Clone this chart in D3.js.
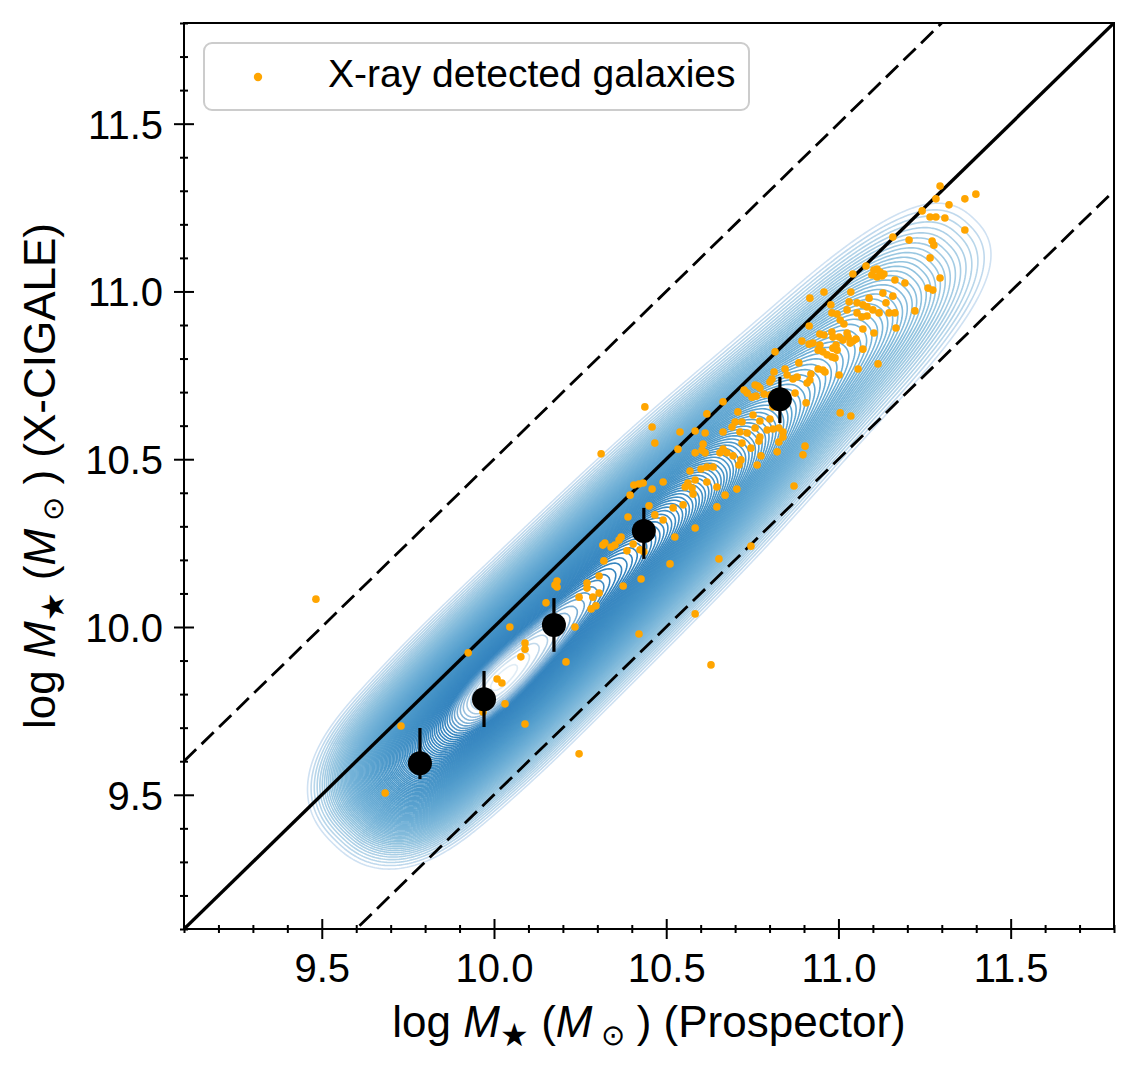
<!DOCTYPE html>
<html>
<head>
<meta charset="utf-8">
<script src="https://cdn.jsdelivr.net/npm/d3@7"></script>
<style>
  body { margin: 0; background: #fff; }
  text { font-family: "Liberation Sans", Arial, Helvetica, sans-serif; fill: #000; }
</style>
</head>
<body>
<svg id="chart" width="1137" height="1068"></svg>
<script>
// ---- data ----
const axisDomain = [9.1, 11.8];
const majorTicks = [9.5, 10.0, 10.5, 11.0, 11.5];
const minorTicks = d3.range(91, 119).map(d => d / 10).filter(v => Math.round(v * 10) % 5 !== 0);

// 1:1 relation and the +/-0.5 dex envelope
const refX = [9.1, 11.8];
const refOffsets = [0, 0.5, -0.5];

// X-ray detected galaxies (Prospector mass, X-CIGALE mass)
const xrayX = [11.295,11.399,11.367,11.283,11.321,11.243,11.266,11.283,11.309,11.367,11.158,11.205,11.272,11.277,11.266,11.080,11.042,11.103,11.112,11.121,
  11.132,11.097,11.112,11.126,11.164,11.193,11.295,11.260,11.274,10.917,10.958,11.036,11.129,11.158,11.089,11.031,11.054,11.071,11.083,10.978,
  11.138,10.981,10.996,11.025,11.054,11.068,11.083,11.100,11.118,11.147,11.164,11.222,11.005,11.016,11.167,11.071,11.103,10.915,10.946,10.958,
  10.981,10.984,11.025,11.028,11.002,11.013,10.894,10.915,10.926,10.946,11.051,11.042,11.034,10.993,10.984,10.996,10.941,10.955,10.967,10.981,
  10.990,11.071,10.816,10.885,11.115,11.057,10.941,10.955,10.961,11.002,10.920,10.917,10.845,10.813,10.851,10.868,10.880,10.807,10.801,10.758,
  10.766,10.909,10.772,10.784,10.761,10.749,10.735,10.726,10.801,10.810,10.810,10.874,10.906,11.005,11.036,10.708,10.665,10.618,10.700,10.720,
  10.691,10.714,10.752,10.772,10.801,10.665,10.735,10.758,10.793,10.810,10.827,10.839,10.839,10.772,10.769,10.827,10.720,10.746,10.665,10.676,
  10.656,10.694,10.717,10.711,10.822,10.775,10.764,10.903,10.897,10.584,10.613,10.540,10.534,10.607,10.604,10.613,10.584,10.459,10.467,10.438,
  10.311,10.569,10.601,10.618,10.636,10.584,10.563,10.555,10.575,10.578,10.618,10.647,10.705,10.671,10.549,10.520,10.647,10.584,10.525,10.491,
  10.467,10.491,10.459,10.406,10.421,10.433,10.395,10.450,10.389,10.369,10.363,10.351,10.322,10.316,10.340,10.386,10.424,10.435,10.319,10.305,
  10.375,10.427,10.511,10.653,10.746,10.871,10.183,10.177,10.270,10.584,10.630,10.421,9.483,9.925,9.730,9.684,10.247,10.046,10.090,10.090,
  10.078,10.009,10.023,10.032,10.090,9.968,10.151,10.183,10.235,10.209,10.270,10.247,10.287,10.305,10.282,10.296,10.404];
const xrayY = [11.314,11.290,11.276,11.276,11.258,11.240,11.222,11.222,11.219,11.183,11.162,11.153,11.150,11.138,11.100,11.076,11.052,11.064,11.067,11.058,
  11.052,11.049,11.043,11.046,11.034,11.025,11.040,11.010,11.004,10.980,10.998,10.998,10.995,10.986,10.980,10.969,10.966,10.960,10.954,10.960,
  10.966,10.936,10.933,10.945,10.936,10.924,10.927,10.945,10.936,10.936,10.936,10.942,10.915,10.903,10.891,10.888,10.876,10.897,10.873,10.870,
  10.879,10.864,10.876,10.864,10.864,10.855,10.852,10.843,10.846,10.840,10.858,10.852,10.846,10.840,10.831,10.825,10.825,10.820,10.811,10.805,
  10.802,10.828,10.820,10.787,10.784,10.769,10.769,10.766,10.760,10.751,10.754,10.736,10.769,10.760,10.751,10.739,10.745,10.739,10.730,10.721,
  10.718,10.727,10.712,10.694,10.688,10.685,10.697,10.706,10.691,10.668,10.656,10.697,10.668,10.638,10.629,10.641,10.671,10.635,10.611,10.611,
  10.596,10.581,10.632,10.614,10.620,10.581,10.578,10.593,10.587,10.590,10.593,10.581,10.566,10.566,10.554,10.551,10.548,10.533,10.530,10.519,
  10.519,10.510,10.498,10.483,10.522,10.510,10.483,10.539,10.513,10.584,10.578,10.581,10.530,10.545,10.527,10.519,10.519,10.596,10.548,10.656,
  10.516,10.465,10.471,10.477,10.477,10.438,10.429,10.417,10.414,10.396,10.432,10.417,10.411,10.393,10.364,10.355,10.358,10.295,10.268,10.319,
  10.334,10.432,10.411,10.423,10.426,10.429,10.393,10.361,10.328,10.268,10.259,10.244,10.250,10.244,10.238,10.227,10.230,10.224,10.197,10.152,
  10.122,10.143,10.188,10.203,10.241,10.420,10.137,10.125,10.131,10.039,9.887,9.979,10.083,9.923,9.705,9.505,9.622,10.000,9.952,9.934,
  9.911,9.845,9.833,9.771,9.711,9.747,10.072,10.119,10.000,9.896,10.116,10.089,10.089,10.101,10.054,10.063,10.247];

// binned medians with asymmetric error bars
const binX  = [9.785, 9.971, 10.174, 10.435, 10.830];
const binY  = [9.594, 9.785, 10.006, 10.286, 10.679];
const binLo = [9.547, 9.702, 9.926, 10.203, 10.608];
const binHi = [9.699, 9.869, 10.086, 10.355, 10.745];

// full-sample density, described as pieces along the diagonal
// mass = (x+y)/2, offset = y - x
const kdeMass   = [9.62, 9.76, 9.88, 10.00, 10.12, 10.24, 10.36, 10.48, 10.60, 10.72, 10.84, 10.96, 11.08, 11.20, 11.30];
const kdeSigMass = [0.10, 0.11, 0.11, 0.11, 0.11, 0.11, 0.11, 0.11, 0.11, 0.11, 0.11, 0.11, 0.11, 0.10, 0.08];
const kdeWeight = [0.78, 0.87, 0.86, 0.84, 0.80, 0.77, 0.73, 0.67, 0.55, 0.44, 0.36, 0.33, 0.28, 0.16, 0.05];
const kdeOffset = -0.18;
const kdeSigOffset = 0.205;
const kdeShape = 2.4;   // flat-topped cross profile
const kdeLevels = 100;

// ---- layout ----
const W = 1137, H = 1068;
const pLeft = 184, pRight = 1114, pTop = 23, pBottom = 929;

const svg = d3.select("#chart");
svg.append("rect").attr("width", W).attr("height", H).attr("fill", "#fff");

const x = d3.scaleLinear().domain(axisDomain).range([pLeft, pRight]);
const y = d3.scaleLinear().domain(axisDomain).range([pBottom, pTop]);

svg.append("clipPath").attr("id", "plotclip")
  .append("rect").attr("x", pLeft).attr("y", pTop)
  .attr("width", pRight - pLeft).attr("height", pBottom - pTop);

const plot = svg.append("g").attr("clip-path", "url(#plotclip)");

// ---- density contours ----
function kde(mx, my) {
  const a = (mx + my) / 2;
  const ud = Math.abs(my - mx - kdeOffset) / kdeSigOffset;
  let s = 0;
  for (let k = 0; k < kdeMass.length; k++) {
    const ua = (a - kdeMass[k]) / kdeSigMass[k];
    s += kdeWeight[k] * Math.exp(-0.5 * ua * ua);
  }
  return s * Math.exp(-0.5 * Math.pow(ud, kdeShape));
}

const cell = 2;
const nx = Math.ceil((pRight - pLeft) / cell), ny = Math.ceil((pBottom - pTop) / cell);
const grid = new Float64Array(nx * ny);
for (let j = 0; j < ny; j++) {
  const gy = y.invert(pTop + (j + 0.5) * cell);
  for (let i = 0; i < nx; i++) {
    grid[j * nx + i] = kde(x.invert(pLeft + (i + 0.5) * cell), gy);
  }
}

// iso-proportion levels (like seaborn's kdeplot)
const sorted = Float64Array.from(grid).sort();
const cum = new Float64Array(sorted.length);
let run = 0;
for (let i = 0; i < sorted.length; i++) { run += sorted[i]; cum[i] = run; }
const props = d3.range(kdeLevels).map(k => 0.05 + k * (0.995 - 0.05) / (kdeLevels - 1));
const thresholds = props.map(p => sorted[Math.min(sorted.length - 1, d3.bisectLeft(cum, p * run))]);

const contours = d3.contours().size([nx, ny]).thresholds(thresholds)(Array.from(grid));
const gridPath = d3.geoPath(d3.geoTransform({
  point: function(px, py) { this.stream.point(pLeft + px * cell, pTop + py * cell); }
}));

// colour follows the density value of each level, the top levels fade out
const levelColor = d3.scaleSqrt().domain([0, thresholds[thresholds.length - 1] - thresholds[0]]).range([0.2, 0.7]);
const levelT = i => i / (kdeLevels - 1);
plot.append("g").selectAll("path")
  .data(contours)
  .join("path")
  .attr("d", gridPath)
  .attr("fill", "none")
  .attr("stroke", d => d3.interpolateBlues(levelColor(d.value - thresholds[0])))
  .attr("stroke-opacity", (d, i) => levelT(i) < 0.88 ? 1 : 1 - 0.85 * (levelT(i) - 0.88) / 0.12)
  .attr("stroke-width", 1.6);

// ---- reference lines ----
const refLine = off => d3.line().x(d => x(d)).y(d => y(d + off));
plot.append("g").selectAll("path")
  .data(refOffsets)
  .join("path")
  .attr("d", off => refLine(off)(refX))
  .attr("fill", "none")
  .attr("stroke", "#000")
  .attr("stroke-width", off => off === 0 ? 3.4 : 2.8)
  .attr("stroke-dasharray", off => off === 0 ? null : "17,7.5");

// ---- scatter ----
plot.append("g").selectAll("circle")
  .data(xrayX)
  .join("circle")
  .attr("cx", d => x(d))
  .attr("cy", (d, i) => y(xrayY[i]))
  .attr("r", 3.8)
  .attr("fill", "#ffa500");

// ---- binned medians ----
const bins = plot.append("g");
bins.selectAll("line")
  .data(binX)
  .join("line")
  .attr("x1", d => x(d)).attr("x2", d => x(d))
  .attr("y1", (d, i) => y(binLo[i])).attr("y2", (d, i) => y(binHi[i]))
  .attr("stroke", "#000").attr("stroke-width", 3.2);
bins.selectAll("circle")
  .data(binX)
  .join("circle")
  .attr("cx", d => x(d))
  .attr("cy", (d, i) => y(binY[i]))
  .attr("r", 12)
  .attr("fill", "#000");

// ---- axes ----
const fs = 40, labelFs = 44;
const xMinor = svg.append("g").attr("transform", `translate(0,${pBottom})`)
  .call(d3.axisBottom(x).tickValues(minorTicks).tickSize(4).tickSizeOuter(0).tickFormat(""));
xMinor.selectAll(".tick line").attr("y1", -4).attr("y2", 4);
const xMajor = svg.append("g").attr("transform", `translate(0,${pBottom})`)
  .call(d3.axisBottom(x).tickValues(majorTicks).tickSize(10).tickSizeOuter(0).tickFormat(d3.format(".1f")));
xMajor.selectAll(".tick line").attr("y1", -10).attr("y2", 10);
xMajor.selectAll(".tick text").attr("y", 53).attr("dy", null)
  .attr("font-size", fs).style("font-family", '"Liberation Sans", Arial, sans-serif');

const yMinor = svg.append("g").attr("transform", `translate(${pLeft},0)`)
  .call(d3.axisLeft(y).tickValues(minorTicks).tickSize(4).tickSizeOuter(0).tickFormat(""));
yMinor.selectAll(".tick line").attr("x1", -4).attr("x2", 4);
const yMajor = svg.append("g").attr("transform", `translate(${pLeft},0)`)
  .call(d3.axisLeft(y).tickValues(majorTicks).tickSize(10).tickSizeOuter(0).tickFormat(d3.format(".1f")));
yMajor.selectAll(".tick line").attr("x1", -10).attr("x2", 10);
yMajor.selectAll(".tick text").attr("x", -21).attr("dy", "0.36em")
  .attr("font-size", fs).style("font-family", '"Liberation Sans", Arial, sans-serif');

svg.selectAll(".domain").remove();
svg.selectAll(".tick line").attr("stroke", "#000").attr("stroke-width", 2);

// frame
svg.append("rect")
  .attr("x", pLeft).attr("y", pTop)
  .attr("width", pRight - pLeft).attr("height", pBottom - pTop)
  .attr("fill", "none").attr("stroke", "#000").attr("stroke-width", 2);

// ---- axis titles ----
function massLabel(sel, suffix) {
  sel.append("tspan").text("log ");
  sel.append("tspan").attr("font-style", "italic").text("M");
  sel.append("tspan").attr("font-size", 32).attr("dy", 9).text("\u2605");
  sel.append("tspan").attr("dy", -9).text(" (");
  sel.append("tspan").attr("font-style", "italic").text("M");
  sel.append("tspan").attr("font-size", 29).attr("dy", 8).text(" \u2299");
  sel.append("tspan").attr("dy", -8).text(" ) " + suffix);
}
svg.append("text")
  .attr("x", (pLeft + pRight) / 2).attr("y", 1037)
  .attr("text-anchor", "middle").attr("font-size", labelFs)
  .call(massLabel, "(Prospector)");
svg.append("text")
  .attr("transform", `translate(55,${(pTop + pBottom) / 2}) rotate(-90)`)
  .attr("text-anchor", "middle").attr("font-size", labelFs)
  .call(massLabel, "(X-CIGALE)");

// ---- legend ----
const legend = svg.append("g");
legend.append("rect")
  .attr("x", 204).attr("y", 43).attr("width", 545).attr("height", 67)
  .attr("rx", 8).attr("fill", "#fff").attr("stroke", "#cccccc").attr("stroke-width", 2);
legend.append("circle").attr("cx", 258).attr("cy", 77).attr("r", 4.2).attr("fill", "#ffa500");
legend.append("text").attr("x", 328).attr("y", 87).attr("font-size", 39).text("X-ray detected galaxies");
</script>
</body>
</html>
